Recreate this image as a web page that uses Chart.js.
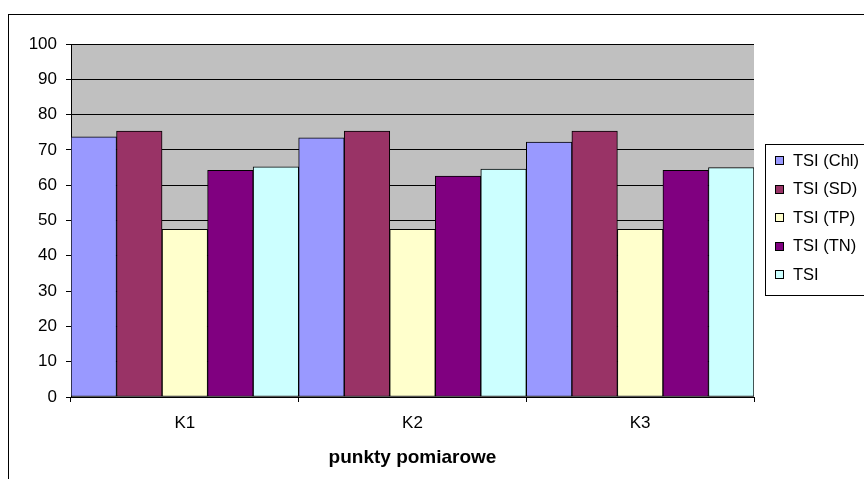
<!DOCTYPE html>
<html>
<head>
<meta charset="utf-8">
<script src="https://cdn.jsdelivr.net/npm/chart.js@4"></script>
<style>
html,body{margin:0;padding:0;background:#fff;}
#wrap{width:864px;height:479px;position:relative;}
</style>
</head>
<body>
<div id="wrap"><canvas id="c" width="864" height="479"></canvas></div>
<script>
const categories = ["K1", "K2", "K3"];
const seriesLabels = ["TSI (Chl)", "TSI (SD)", "TSI (TP)", "TSI (TN)", "TSI"];
const tsiChl = [73.7, 73.4, 72.2];
const tsiSD = [75.3, 75.3, 75.3];
const tsiTP = [47.5, 47.5, 47.5];
const tsiTN = [64.2, 62.6, 64.2];
const tsiAll = [65.2, 64.6, 65.0];
const yTicks = [0, 10, 20, 30, 40, 50, 60, 70, 80, 90, 100];
const xTitle = "punkty pomiarowe";

const colors = ["#9999FF", "#993366", "#FFFFCC", "#800080", "#CCFFFF"];
const seriesValues = [tsiChl, tsiSD, tsiTP, tsiTN, tsiAll];
const FONT = "'Liberation Sans', Arial, sans-serif";

const bgPlugin = {
  id: 'bg',
  beforeDraw(chart) {
    const ctx = chart.ctx, a = chart.chartArea;
    ctx.save();
    ctx.fillStyle = '#fff';
    ctx.fillRect(0, 0, chart.width, chart.height);
    ctx.strokeStyle = '#000';
    ctx.lineWidth = 1;
    ctx.strokeRect(8.5, 14.5, 900, 500);
    ctx.fillStyle = '#C0C0C0';
    ctx.fillRect(a.left, a.top, a.right - a.left, a.bottom - a.top);
    ctx.restore();
  },
  afterDraw(chart) {
    const ctx = chart.ctx;
    ctx.save();
    const bx = 765.5, by = 144.5, bh = 151;
    ctx.fillStyle = '#fff';
    ctx.fillRect(bx, by, 200, bh);
    ctx.strokeStyle = '#000';
    ctx.lineWidth = 1;
    ctx.strokeRect(bx, by, 200, bh);
    ctx.font = "16.5px " + FONT;
    ctx.textBaseline = 'middle';
    ctx.textAlign = 'left';
    chart.data.datasets.forEach((ds, i) => {
      const cy = 161 + i * 28.5;
      ctx.fillStyle = ds.backgroundColor;
      ctx.fillRect(775.5, Math.round(cy) - 4.5, 8, 8);
      ctx.strokeRect(775.5, Math.round(cy) - 4.5, 8, 8);
      ctx.fillStyle = '#000';
      ctx.fillText(ds.label, 793, cy);
    });
    ctx.restore();
  }
};

new Chart(document.getElementById('c'), {
  type: 'bar',
  data: {
    labels: categories,
    datasets: seriesLabels.map((l, i) => ({
      label: l,
      data: seriesValues[i],
      backgroundColor: colors[i],
      borderColor: '#000',
      borderWidth: 1,
      borderSkipped: false,
      categoryPercentage: 1.0,
      barPercentage: 1.0
    }))
  },
  options: {
    responsive: false,
    animation: false,
    devicePixelRatio: 1,
    layout: { padding: { left: 0, top: 44, right: 110, bottom: 0 } },
    plugins: { legend: { display: false }, tooltip: { enabled: false } },
    scales: {
      x: {
        offset: true,
        grid: { display: true, drawOnChartArea: false, offset: true, color: '#000', tickLength: 5, drawTicks: true },
        border: { display: true, color: '#000', width: 1 },
        ticks: { color: '#000', font: { family: FONT, size: 17 }, padding: 11 },
        title: { display: true, text: xTitle, color: '#000', font: { family: FONT, size: 19, weight: 'bold' }, padding: { top: 8, bottom: 10 } },
        afterFit(s) { s.height = 82; }
      },
      y: {
        min: 0, max: 100,
        afterBuildTicks(s) { s.ticks = yTicks.map(v => ({ value: v })); },
        grid: { color: '#000', lineWidth: 1, tickLength: 5, drawTicks: true },
        border: { display: true, color: '#000', width: 1 },
        ticks: { color: '#000', font: { family: FONT, size: 17 }, padding: 9 },
        afterFit(s) { s.width = 71; }
      }
    }
  },
  plugins: [bgPlugin]
});
</script>
</body>
</html>
